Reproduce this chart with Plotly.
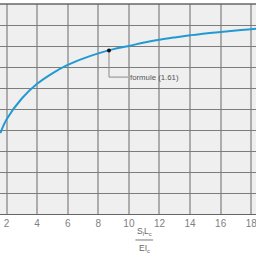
import plotly.graph_objects as go

# values
x_vals = [1.6, 2, 3, 4, 5, 6, 7, 8, 9, 10, 11, 12, 13, 14, 15, 16, 17, 18, 18.4]
y_vals = [0.385, 0.45, 0.55, 0.62, 0.67, 0.71, 0.74, 0.765, 0.785, 0.80, 0.817,
          0.83, 0.841, 0.851, 0.86, 0.867, 0.874, 0.88, 0.883]
x_ticks = [2, 4, 6, 8, 10, 12, 14, 16, 18]
marker_x = [8.7]
marker_y = [0.779]
label_y = 0.652
label_x = 9.94
label_text = "formule (1.61)"

FONT = "Liberation Sans, Arial"
fig = go.Figure()
fig.add_trace(go.Scatter(x=x_vals, y=y_vals, mode="lines", line=dict(color="#2399d3", width=2, shape="spline"),
                         hoverinfo="skip"))
# leader line
fig.add_trace(go.Scatter(x=[marker_x[0], marker_x[0], label_x], y=[marker_y[0], label_y, label_y],
                         mode="lines", line=dict(color="#8a8a8a", width=1), hoverinfo="skip"))
fig.add_trace(go.Scatter(x=marker_x, y=marker_y, mode="markers",
                         marker=dict(color="#111111", size=4), hoverinfo="skip"))
fig.add_annotation(x=label_x, y=label_y, text=label_text, showarrow=False, xanchor="left", yanchor="middle",
                   xshift=0, font=dict(family="Liberation Sans Narrow, " + FONT, size=7.8, color="#555555"))

# axis title as fraction
line_y = -0.1238
fig.add_annotation(xref="paper", yref="paper", x=0.5645, y=line_y + 1 / 210, yanchor="bottom",
                   text="S<sub>l</sub>L<sub>c</sub>",
                   showarrow=False, font=dict(family=FONT, size=8.5, color="#666666"))
fig.add_annotation(xref="paper", yref="paper", x=0.5645, y=line_y - 1 / 210, yanchor="top",
                   text="EI<sub>c</sub>",
                   showarrow=False, font=dict(family=FONT, size=8.5, color="#666666"))
fig.add_shape(type="line", xref="paper", yref="paper", x0=0.529, x1=0.598, y0=line_y, y1=line_y,
              line=dict(color="#777777", width=1))

fig.update_layout(
    width=256, height=256, margin=dict(l=0, r=0, t=4, b=42),
    paper_bgcolor="white", plot_bgcolor="#efefef", showlegend=False,
    xaxis=dict(range=[1.575, 18.31], tickvals=x_ticks, showgrid=True, gridcolor="#acacac", gridwidth=2,
               zeroline=False, showline=True, linecolor="#666666", linewidth=1, ticks="",
               ticklabeloverflow="allow",
               tickfont=dict(family=FONT, size=10, color="#808080"), mirror=False),
    yaxis=dict(range=[0, 1], dtick=0.1, showgrid=True, gridcolor="#7c7c7c", gridwidth=1,
               zeroline=False, showticklabels=False, showline=False),
)
fig.add_shape(type="line", xref="paper", yref="paper", x0=0, x1=1, y0=1, y1=1,
              line=dict(color="#666666", width=1.5))
fig.write_html("out.html")
